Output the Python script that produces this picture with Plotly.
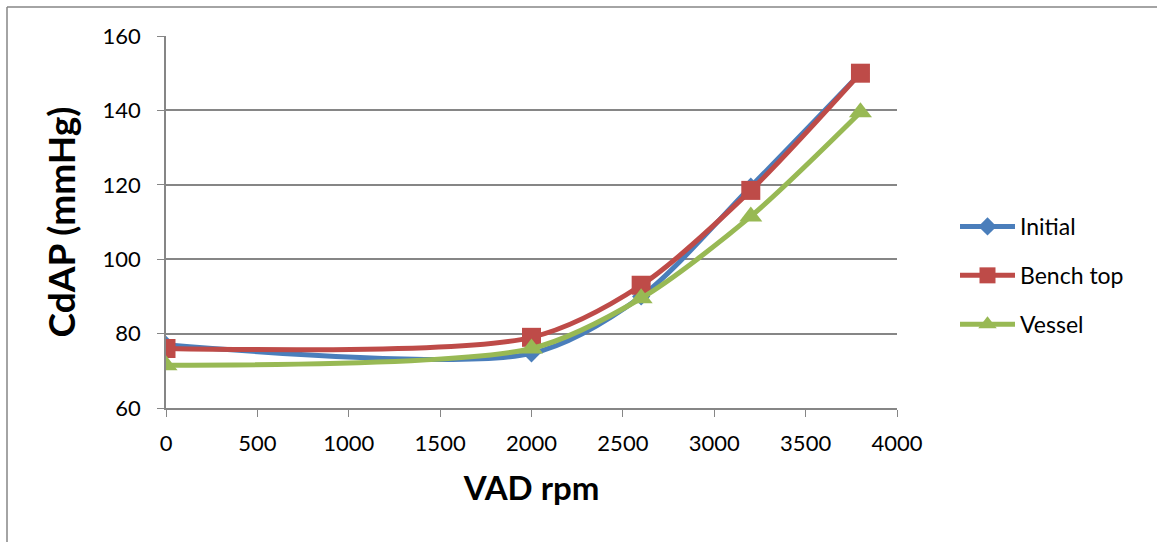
import plotly.graph_objects as go

rpm = [0, 2000, 2600, 3200, 3800]
initial = [77, 74.7, 90, 119.5, 150]
bench_top = [76, 79, 93, 118.5, 150]
vessel = [71.5, 76, 89.5, 111.5, 139.5]

series = [
    ("Initial", initial, "#4A7EBB", "diamond", 14),
    ("Bench top", bench_top, "#BE4B48", "square", 19),
    ("Vessel", vessel, "#98B954", "triangle-up", 20),
]

FONT = "Lato, Calibri, Carlito, sans-serif"

fig = go.Figure()
for i, (name, vals, color, sym, size) in enumerate(series):
    fig.add_trace(go.Scatter(
        x=rpm, y=vals, name=name, mode="lines+markers",
        line=dict(color=color, width=5, shape="spline", smoothing=0.8),
        marker=dict(symbol=sym, size=size, color=color),
        legendgroup=f"g{i}",
    ))

# paper coordinates of the chart frame
L, R, T, B = 166, 897, 36, 408
def px(x):
    return (x - L) / (R - L)
def py(y):
    return (B - y) / (B - T)

fig.update_layout(
    width=1157, height=542,
    margin=dict(l=L, r=1157 - R, t=T, b=542 - B),
    paper_bgcolor="white", plot_bgcolor="white",
    font=dict(family=FONT, size=22, color="black"),
    showlegend=True,
    legend=dict(x=px(955), y=py(205), xanchor="left", yanchor="top",
                font=dict(size=23, family=FONT), traceorder="grouped",
                tracegroupgap=16, itemwidth=55, bgcolor="rgba(0,0,0,0)"),
    xaxis=dict(range=[0, 4000], tickmode="array",
               tickvals=list(range(0, 4001, 500)),
               ticktext=[str(v) for v in range(0, 4001, 500)],
               showgrid=False, zeroline=False, showline=True,
               linecolor="#868686", linewidth=1.5,
               ticks="outside", ticklen=7, tickcolor="#868686",
               ticklabelstandoff=8,
               tickfont=dict(size=22),
               title=dict(text="<b>VAD rpm</b>", font=dict(size=33), standoff=22)),
    yaxis=dict(range=[60, 160], tickmode="array",
               tickvals=list(range(60, 161, 20)),
               ticktext=[str(v) for v in range(60, 161, 20)],
               showgrid=True, gridcolor="#868686", gridwidth=1.5,
               zeroline=False, showline=True,
               linecolor="#868686", linewidth=1.5,
               ticks="outside", ticklen=7, tickcolor="#868686",
               ticklabelstandoff=12,
               tickfont=dict(size=22),
               title=dict(text="<b>CdAP (mmHg)</b>", font=dict(size=37), standoff=16)),
    shapes=[
        dict(type="line", xref="paper", yref="paper",
             x0=px(7), x1=px(1160), y0=py(7), y1=py(7),
             line=dict(color="#868686", width=1.5)),
        dict(type="line", xref="paper", yref="paper",
             x0=px(7), x1=px(7), y0=py(7), y1=py(545),
             line=dict(color="#868686", width=1.5)),
    ],
)

fig.write_html("out.html")
